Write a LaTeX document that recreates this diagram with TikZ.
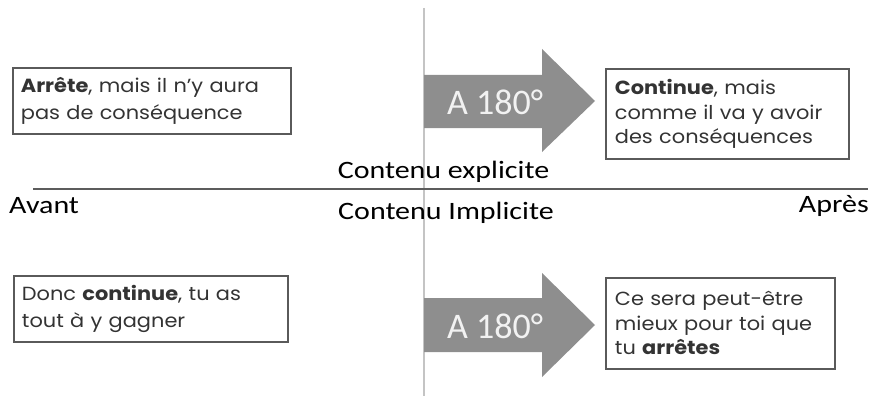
\documentclass[tikz,border=0pt]{standalone}
\usepackage{fontspec}
\setmainfont{Carlito}
\newfontfamily\boxfont[FakeStretch=1.1]{Poppins}
\newfontfamily\labfont[FakeStretch=1.2]{Carlito}
\newfontfamily\arrfont{Carlito}
\definecolor{boxline}{HTML}{5A5A5A}
\definecolor{boxtext}{HTML}{333333}
\definecolor{arrgray}{HTML}{8E8E8E}
\definecolor{arrtext}{HTML}{F2F2F2}
\definecolor{hcol}{HTML}{5C5C5C}
\definecolor{vcol}{HTML}{C4C4C4}
\tikzset{
  textbox/.style={draw=boxline, line width=1.8pt, anchor=north west, inner xsep=8pt, inner ysep=0pt,
    align=left, text=boxtext, font=\boxfont\fontsize{19}{27}\selectfont},
  threeline/.style={font=\boxfont\fontsize{19}{24.5}\selectfont},
  label/.style={inner sep=0pt, text=black, font=\labfont\fontsize{25}{29}\selectfont},
  arrowbody/.style={fill=arrgray, draw=none},
  arrowlabel/.style={inner sep=0pt, text=arrtext, font=\arrfont\fontsize{36}{40}\selectfont},
  hline/.style={draw=hcol, line width=2pt},
  vline/.style={draw=vcol, line width=1.6pt}
}
\begin{document}
\begin{tikzpicture}[x=1pt,y=-1pt]
\useasboundingbox (0,0) rectangle (871,396);
% axes
\coordinate (vt) at (424,8);
\coordinate (vb) at (424,396);
\draw[vline] (vt) -- (vb);
\coordinate (hl) at (33,189);
\coordinate (hr) at (868,189);
\draw[hline] (hl) -- (hr);
% arrows
\fill[arrowbody] (424,75) -- (542,75) -- (542,49) -- (595,101) -- (542,152) -- (542,128) -- (424,128) -- cycle;
\node[arrowlabel, anchor=base] (a1) at (495,114) {A 180°};
\fill[arrowbody] (424,298) -- (542,298) -- (542,273) -- (595,325) -- (542,377) -- (542,352) -- (424,352) -- cycle;
\node[arrowlabel, anchor=base] (a2) at (495,338) {A 180°};
% boxes
\node[textbox, minimum width=278pt, minimum height=66pt, text width=262pt] (b1) at (12,67)
  {\textbf{Arrête}, mais il n’y aura\\pas de conséquence};
\node[textbox, threeline, minimum width=242pt, minimum height=90pt, text width=225pt, inner xsep=9pt] (b2) at (605,68)
  {\textbf{Continue}, mais\\comme il va y avoir\\des conséquences};
\node[textbox, minimum width=274pt, minimum height=66pt, text width=258pt] (b3) at (13,275)
  {Donc \textbf{continue}, tu as\\tout à y gagner};
\node[textbox, threeline, minimum width=228pt, minimum height=91pt, text width=211pt, inner xsep=9pt] (b4) at (605,277)
  {Ce sera peut-être\\mieux pour toi que\\tu \textbf{arrêtes}};
% labels
\node[label, anchor=base] (exp) at (443.5,178) {Contenu explicite};
\node[label, anchor=base] (imp) at (446,219) {Contenu Implicite};
\node[label, anchor=base west] (av) at (9,213) {Avant};
\node[label, anchor=base east] (ap) at (869,212) {Après};
\end{tikzpicture}
\end{document}
